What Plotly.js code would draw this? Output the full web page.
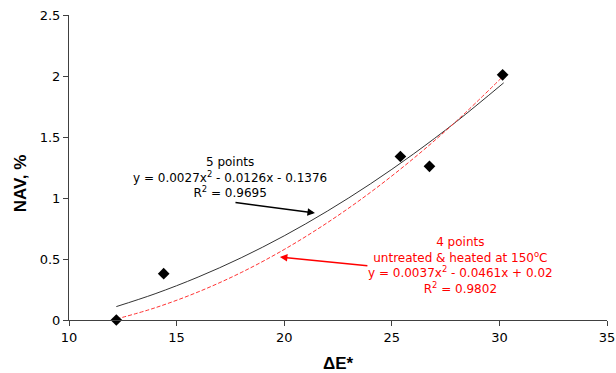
<!DOCTYPE html>
<html>
<head>
<meta charset="utf-8">
<script src="https://cdn.plot.ly/plotly-3.0.1.min.js"></script>
<style>html,body{margin:0;padding:0;background:#fff;}#chart{width:616px;height:373px;}</style>
</head>
<body>
<div id="chart"></div>
<script>
// Measured points (ΔE*, NAV %)
const pointsX = [12.2, 14.4, 25.4, 26.75, 30.15];
const pointsY = [0.0, 0.38, 1.34, 1.26, 2.01];

// Trendline samples
const fitX = [12.2, 14, 16, 18, 20, 22, 24, 26, 28, 30.2];
const fit5Y = [0.11, 0.215, 0.352, 0.51, 0.69, 0.892, 1.115, 1.36, 1.626, 1.944];
const fit4Y = [0.008, 0.10, 0.23, 0.389, 0.578, 0.797, 1.045, 1.323, 1.63, 2.0025];

const xTicks = [10, 15, 20, 25, 30, 35];
const yTicks = [0, 0.5, 1, 1.5, 2, 2.5];
const yTickText = ['0', '0.5', '1', '1.5', '2', '2.5'];

const label5 = '5 points<br>y = 0.0027x<sup>2</sup> - 0.0126x - 0.1376<br>R<sup>2</sup> = 0.9695';
const label4 = '4 points<br>untreated &amp; heated at 150<sup>o</sup>C<br>y = 0.0037x<sup>2</sup> - 0.0461x + 0.02<br>R<sup>2</sup> = 0.9802';

const FONT = 'DejaVu Sans, Liberation Sans, Arial, sans-serif';

const traces = [
  {x: fitX, y: fit5Y, type: 'scatter', mode: 'lines', line: {color: '#333333', width: 1, shape: 'spline'}, hoverinfo: 'skip'},
  {x: fitX, y: fit4Y, type: 'scatter', mode: 'lines', line: {color: '#ff3333', width: 1, dash: '4px,2px', shape: 'spline'}, hoverinfo: 'skip'},
  {x: pointsX, y: pointsY, type: 'scatter', mode: 'markers', cliponaxis: false, marker: {symbol: 'diamond', size: 9, color: '#000000'}}
];

const layout = {
  width: 616, height: 373,
  margin: {l: 69, r: 9, t: 15, b: 53},
  paper_bgcolor: '#ffffff', plot_bgcolor: '#ffffff',
  showlegend: false,
  font: {family: FONT, color: '#000000'},
  xaxis: {
    range: [10, 35], tickvals: xTicks, ticks: 'outside', ticklen: 5, tickcolor: '#404040',
    showline: true, linecolor: '#404040', linewidth: 1, showgrid: false, zeroline: false,
    tickfont: {size: 13, color: '#000000', family: FONT},
    title: {text: '<b>ΔE*</b>', font: {size: 17, color: '#000000', family: 'Liberation Sans, Arial, sans-serif'}, standoff: 16}
  },
  yaxis: {
    range: [0, 2.5], tickvals: yTicks, ticktext: yTickText, ticks: 'outside', ticklen: 5, tickcolor: '#404040',
    showline: true, linecolor: '#404040', linewidth: 1, showgrid: false, zeroline: false,
    tickfont: {size: 13, color: '#000000', family: FONT}
  },
  annotations: [
    {xref: 'paper', yref: 'paper', x: -0.09, y: 0.447, text: '<b>NAV, %</b>', textangle: -90, showarrow: false,
     font: {size: 17, color: '#000000', family: 'Liberation Sans, Arial, sans-serif'}, xanchor: 'center', yanchor: 'middle'},
    {xref: 'x', yref: 'y', x: 17.48, y: 1.164, text: label5, showarrow: false, align: 'center',
     font: {size: 12, color: '#000000', family: FONT}, xanchor: 'center', yanchor: 'middle'},
    {xref: 'x', yref: 'y', x: 21.43, y: 0.877, text: ' ', showarrow: true, arrowhead: 2, arrowsize: 1, arrowwidth: 1.5,
     arrowcolor: '#000000', ax: -83, ay: -11},
    {xref: 'x', yref: 'y', x: 28.17, y: 0.447, text: label4, showarrow: false, align: 'center',
     font: {size: 12, color: '#ff0000', family: FONT}, xanchor: 'center', yanchor: 'middle'},
    {xref: 'x', yref: 'y', x: 19.8, y: 0.516, text: ' ', showarrow: true, arrowhead: 2, arrowsize: 1, arrowwidth: 1.5,
     arrowcolor: '#ff0000', ax: 91, ay: 9}
  ]
};

Plotly.newPlot('chart', traces, layout, {displayModeBar: false, staticPlot: true});
</script>
</body>
</html>
